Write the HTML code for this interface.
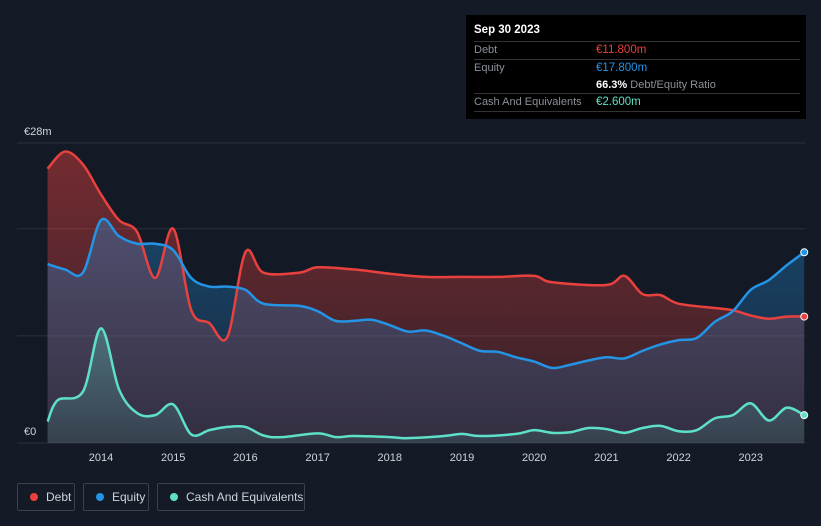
<!DOCTYPE html>
<html><head><meta charset="utf-8">
<style>
body{margin:0;background:#151b26;font-family:"Liberation Sans",sans-serif;}
#wrap{position:relative;width:821px;height:526px;overflow:hidden;background:#151b26;}
.tt{position:absolute;left:466px;top:15px;width:340px;height:104px;background:#000;}
.row{position:absolute;left:8px;width:326px;font-size:11px;color:#8a8f98;border-top:1px solid #333;}
.leg{position:absolute;top:483px;height:26px;border:1px solid #3a4150;border-radius:2px;color:#d0d4da;font-size:12px;line-height:26px;}
.dot{display:inline-block;width:8px;height:8px;border-radius:50%;margin:0 8px 0 12px;}
</style></head><body>
<div id="wrap">
<svg id="chart" width="821" height="526" style="position:absolute;left:0;top:0"></svg>
<div class="tt">
 <div style="position:absolute;left:8px;top:9px;color:#fff;font-size:11.5px;font-weight:bold">Sep 30 2023</div>
 <div class="row" style="top:26px;height:17px;line-height:17px">Debt<span style="position:absolute;left:122px;color:#e8413e;font-size:11.5px">€11.800m</span></div>
 <div class="row" style="top:44px;height:17px;line-height:17px">Equity<span style="position:absolute;left:122px;color:#2394e6;font-size:11.5px">€17.800m</span></div>
 <div style="position:absolute;left:130px;top:62px;font-size:11px;color:#8a8f98;line-height:17px"><b style="color:#fff">66.3%</b> Debt/Equity Ratio</div>
 <div class="row" style="top:78px;height:17px;line-height:17px;border-bottom:1px solid #333">Cash And Equivalents<span style="position:absolute;left:122px;color:#5ee0c8;font-size:11.5px">€2.600m</span></div>
</div>
<div class="leg" style="left:17px;width:56px"><span class="dot" style="background:#e8413e"></span>Debt</div>
<div class="leg" style="left:83px;width:64px"><span class="dot" style="background:#2394e6"></span>Equity</div>
<div class="leg" style="left:157px;width:146px"><span class="dot" style="background:#5ee0c8"></span>Cash And Equivalents</div>
</div>
<script>
const debtX=[2013.26,2013.5,2013.75,2014.0,2014.25,2014.5,2014.75,2015.0,2015.25,2015.5,2015.75,2016.0,2016.25,2016.75,2017.0,2017.5,2018.0,2018.5,2019.0,2019.5,2020.0,2020.25,2021.0,2021.25,2021.5,2021.75,2022.0,2022.5,2022.75,2023.0,2023.25,2023.5,2023.74];
const debtV=[25.6,27.2,26,23.2,20.8,19.7,15.4,20,12.4,11.2,9.9,17.8,15.9,15.9,16.4,16.2,15.8,15.5,15.5,15.5,15.6,15,14.75,15.6,13.9,13.8,13,12.6,12.4,11.9,11.6,11.8,11.8];
const eqX=[2013.26,2013.5,2013.75,2014.0,2014.25,2014.5,2014.75,2015.0,2015.25,2015.5,2015.75,2016.0,2016.25,2016.75,2017.0,2017.25,2017.5,2017.75,2018.0,2018.25,2018.5,2018.75,2019.0,2019.25,2019.5,2019.75,2020.0,2020.25,2020.5,2020.75,2021.0,2021.25,2021.5,2021.75,2022.0,2022.25,2022.5,2022.75,2023.0,2023.25,2023.5,2023.74];
const eqV=[16.7,16.2,15.9,20.8,19.3,18.6,18.6,18,15.4,14.6,14.6,14.3,13,12.8,12.3,11.4,11.4,11.5,11,10.4,10.5,10,9.3,8.6,8.5,8.0,7.6,7.0,7.3,7.7,8.0,7.9,8.6,9.2,9.6,9.8,11.3,12.3,14.3,15.2,16.6,17.8];
const cashX=[2013.26,2013.4,2013.75,2014.0,2014.25,2014.5,2014.75,2015.0,2015.25,2015.5,2015.75,2016.0,2016.25,2016.5,2017.0,2017.25,2017.5,2018.0,2018.25,2018.75,2019.0,2019.25,2019.75,2020.0,2020.25,2020.5,2020.75,2021.0,2021.25,2021.5,2021.75,2022.0,2022.25,2022.5,2022.75,2023.0,2023.25,2023.5,2023.74];
const cashV=[2.0,4.0,4.8,10.7,5.0,2.8,2.6,3.6,0.8,1.2,1.5,1.5,0.7,0.55,0.9,0.55,0.65,0.55,0.45,0.65,0.85,0.65,0.85,1.2,0.95,1.0,1.4,1.3,0.95,1.4,1.6,1.1,1.2,2.3,2.6,3.7,2.1,3.3,2.6];
const yTicks=[0,28];const yTickLabels=["€0","€28m"];
const xTicks=[2014,2015,2016,2017,2018,2019,2020,2021,2022,2023];
const NS="http://www.w3.org/2000/svg";
const svg=document.getElementById('chart');
const X=t=>101+(t-2014)*72.2;
const Y=v=>443-v*300/28;
function mk(tag,attrs){const e=document.createElementNS(NS,tag);for(const k in attrs)e.setAttribute(k,attrs[k]);svg.appendChild(e);return e;}
function pathD(xs,vs){const p=xs.map((x,i)=>[X(x),Y(vs[i])]);let d="M"+p[0][0]+","+p[0][1];
for(let i=0;i<p.length-1;i++){const p0=p[Math.max(0,i-1)],p1=p[i],p2=p[i+1],p3=p[Math.min(p.length-1,i+2)];
const c1x=p1[0]+(p2[0]-p0[0])/6,c1y=p1[1]+(p2[1]-p0[1])/6,c2x=p2[0]-(p3[0]-p1[0])/6,c2y=p2[1]-(p3[1]-p1[1])/6;
d+=` C${c1x},${c1y} ${c2x},${c2y} ${p2[0]},${p2[1]}`;}return d;}
const defs=mk('defs',{});
defs.innerHTML='<linearGradient id="gd" x1="0" y1="0" x2="0" y2="1"><stop offset="0" stop-color="#e8413e" stop-opacity="0.45"/><stop offset="1" stop-color="#e8413e" stop-opacity="0.15"/></linearGradient><linearGradient id="ge" x1="0" y1="0" x2="0" y2="1"><stop offset="0" stop-color="#2394e6" stop-opacity="0.35"/><stop offset="1" stop-color="#2394e6" stop-opacity="0.12"/></linearGradient><linearGradient id="gc" x1="0" y1="0" x2="0" y2="1"><stop offset="0" stop-color="#5ee0c8" stop-opacity="0.3"/><stop offset="1" stop-color="#5ee0c8" stop-opacity="0.1"/></linearGradient>';
const bg=mk('rect',{x:17,y:143,width:788,height:300,fill:'#141a25'});


[0,10,20,28].forEach(v=>{const l=mk('line',{x1:17,x2:805,y1:Y(v),y2:Y(v),stroke:'#2a313e','stroke-width':1});

});
yTicks.forEach((v,i)=>{const t=mk('text',{x:24,y:Y(v)-8,fill:'#d0d4da','font-size':11,'font-family':'Liberation Sans'});t.textContent=yTickLabels[i];

});
xTicks.forEach(v=>{const t=mk('text',{x:X(v),y:461,fill:'#d0d4da','font-size':11,'text-anchor':'middle','font-family':'Liberation Sans'});t.textContent=v;

});
const series=[[debtX,debtV,'#e8413e','url(#gd)','debt'],[eqX,eqV,'#2394e6','url(#ge)','equity'],[cashX,cashV,'#5ee0c8','url(#gc)','cash']];
series.forEach(s=>{const d=pathD(s[0],s[1]);
const a=mk('path',{d:d+` L${X(s[0][s[0].length-1])},443 L${X(s[0][0])},443 Z`,fill:s[3]});

});
series.forEach(s=>{const d=pathD(s[0],s[1]);
const l=mk('path',{d:d,fill:'none',stroke:s[2],'stroke-width':2.5});


const n=s[0].length-1;
const c=mk('circle',{cx:X(s[0][n]),cy:Y(s[1][n]),r:3.5,fill:s[2],stroke:'#fff','stroke-width':1});

});
</script>
</body></html>
